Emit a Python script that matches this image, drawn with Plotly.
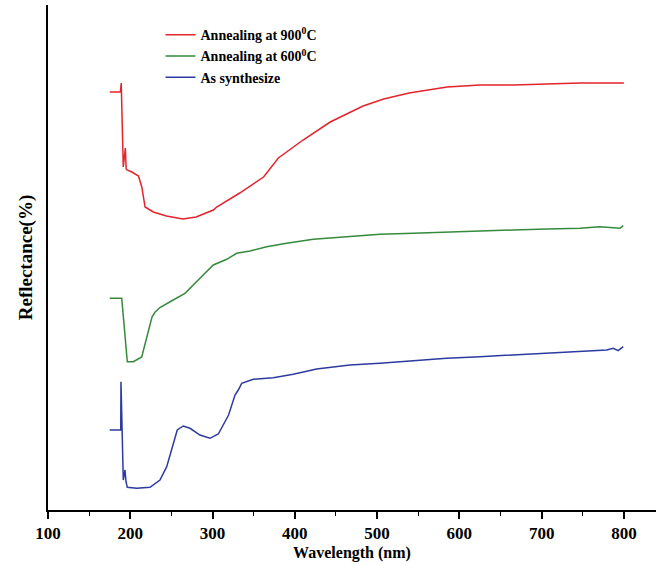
import plotly.graph_objects as go

# Annealing at 900 C
wl_900 = [175, 188, 189, 191.5, 194, 195, 196, 202, 210, 214, 218, 228, 244, 264, 280, 301, 305,
          333, 362, 380, 410, 443, 483, 508, 539, 585, 625, 666, 706, 747, 787, 800]
r_900 = [418, 418, 427, 343, 362, 341, 340, 338, 334, 323, 303, 298, 294, 291, 293, 300, 303,
         317, 333, 352, 370, 388, 404, 411, 417, 423, 425, 425, 426, 427, 427, 427]

# Annealing at 600 C
wl_600 = [175, 189.6, 196.4, 203.7, 213.9, 220, 226.4, 230, 236.1, 250, 266.5, 284.7, 300.9, 317.2,
          329.3, 345.5, 365.8, 390.1, 422.4, 463, 503.5, 544, 584.5, 625, 665.5, 706.1, 746.5,
          770.8, 787, 795.2, 799.2]
r_600 = [211.7, 211.7, 148.3, 148.3, 153, 173.3, 193, 197.7, 202.5, 209, 216.7, 231.7, 245, 250.7,
         256.7, 259, 263.3, 266.7, 270.7, 273.3, 275.7, 276.7, 278, 279, 280, 281, 281.7,
         283.3, 282.7, 281.7, 284.3]

# As synthesize
wl_as = [175, 188.4, 188.7, 191.5, 193.6, 194.8, 196.4, 207.8, 224, 236.1, 244.3, 250.3, 257.1,
         264.4, 272.6, 284.7, 296.9, 307, 319.5, 327.3, 331.3, 335.4, 349.5, 373.8, 398.1, 426.5,
         467, 503.5, 544, 584.5, 625, 665.5, 706.1, 746.5, 779, 787, 793, 799.2]
r_as = [80, 80, 128.3, 30, 40, 28.3, 22.7, 21.7, 22.7, 30, 43.3, 60, 80,
        84, 81.7, 75, 71.7, 76, 95, 115, 120, 126.7, 130.7, 132.3, 135.7, 141,
        145, 146.7, 149.3, 151.7, 153.3, 155, 156.7, 159, 160, 161.7, 159.3, 163.3]

x_ticks = [100, 200, 300, 400, 500, 600, 700, 800]

series = [
    ("Annealing at 900<sup>0</sup>C", wl_900, r_900, "#e3242b"),
    ("Annealing at 600<sup>0</sup>C", wl_600, r_600, "#358a3c"),
    ("As synthesize", wl_as, r_as, "#2c3b9f"),
]

fig = go.Figure()
for name, x, y, c in series:
    fig.add_trace(go.Scatter(x=x, y=y, mode="lines", name=name,
                             line=dict(color=c, width=1.5)))

font_family = "Liberation Serif, Times New Roman, serif"
fig.update_layout(
    width=656, height=565,
    margin=dict(l=48, r=0, t=5, b=55),
    plot_bgcolor="white", paper_bgcolor="white",
    font=dict(family=font_family, color="black"),
    showlegend=True,
    legend=dict(x=0.185, y=0.972, xanchor="left", yanchor="top",
                bgcolor="rgba(0,0,0,0)", tracegroupgap=0,
                font=dict(size=14, family=font_family, weight="bold"),
                itemwidth=30),
    xaxis=dict(range=[100, 839], tickvals=x_ticks, ticktext=[str(v) for v in x_ticks],
               ticks="outside", ticklen=7, tickwidth=1.5, tickcolor="black",
               minor=dict(dtick=50, tick0=0, ticks="outside", ticklen=4, tickwidth=1.2, tickcolor="black"),
               showline=True, linecolor="black", linewidth=2, showgrid=False, zeroline=False,
               tickfont=dict(size=17, weight="bold", family=font_family),
               title=dict(text="Wavelength (nm)", standoff=4,
                          font=dict(size=16, weight="bold", family=font_family))),
    yaxis=dict(range=[0, 505], showticklabels=False, ticks="",
               showline=True, linecolor="black", linewidth=2, showgrid=False, zeroline=False,
               title=dict(text="Reflectance(%)", standoff=8,
                          font=dict(size=19, weight="bold", family=font_family))),
)

fig.write_html("out.html")
